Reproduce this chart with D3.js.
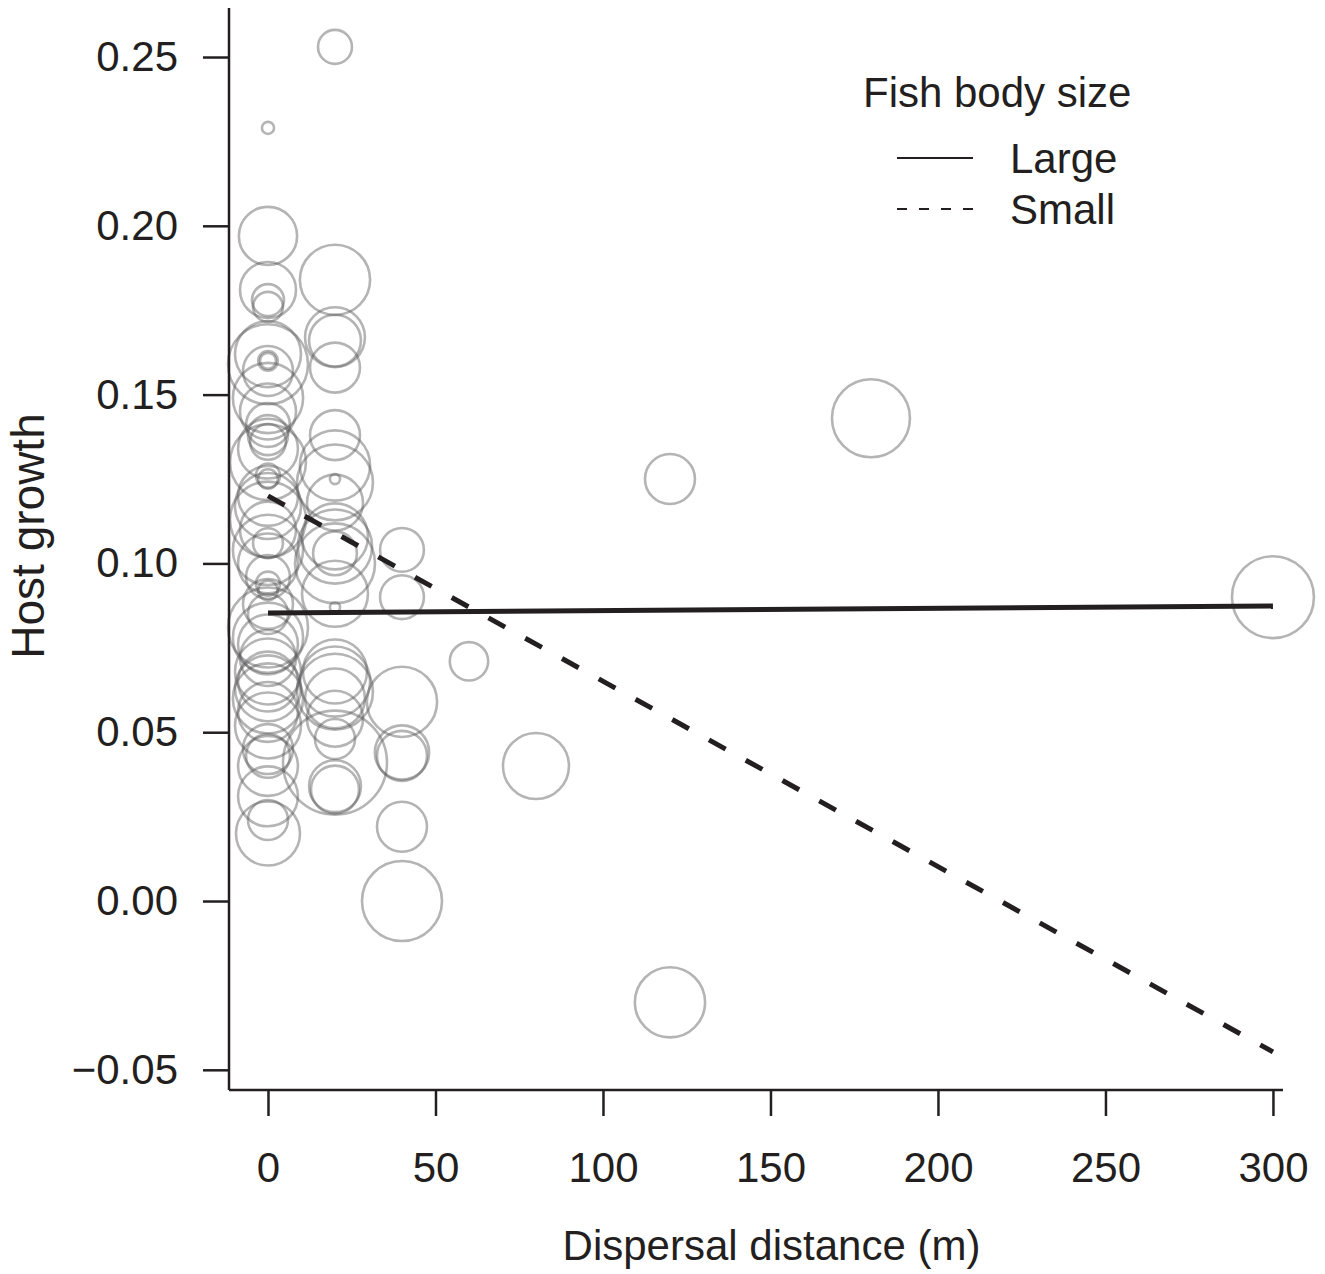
<!DOCTYPE html>
<html>
<head>
<meta charset="utf-8">
<script src="https://cdn.jsdelivr.net/npm/d3@7"></script>
<style>
  body { margin: 0; background: #fff; }
  text { font-family: "Liberation Sans", Arial, Helvetica, sans-serif; fill: #231f20; }
</style>
</head>
<body>
<div id="chart"></div>
<script>
// observations: dispersal distance (m), host growth, weight (bubble size)
let distance = [
  0,0,0,0,0,0,0,0,0,0,0,0,0,0,0,0,0,0,0,0,0,0,0,0,0,0,0,0,0,0,0,0,0,0,0,0,0,0,0,0,0,0,0,0,0,0,0,
  20,20,20,20,20,20,20,20,20,20,20,20,20,20,20,20,20,20,20,20,20,20,20,20,20,
  40,40,40,40,40,40,40,
  60, 80, 120, 120, 180, 300
];
let growth = [
  0.229,0.197,0.181,0.178,0.176,0.162,0.159,0.160,0.160,0.157,0.149,0.145,0.141,0.138,0.136,0.134,
  0.130,0.126,0.125,0.120,0.117,0.113,0.110,0.106,0.104,0.100,0.096,0.094,0.092,0.088,0.085,0.081,
  0.078,0.076,0.072,0.068,0.065,0.063,0.060,0.056,0.052,0.045,0.043,0.040,0.031,0.024,0.020,
  0.253,0.184,0.167,0.166,0.158,0.138,0.129,0.125,0.124,0.118,0.108,0.105,0.103,0.100,0.091,0.087,
  0.068,0.065,0.062,0.060,0.054,0.048,0.041,0.034,0.033,
  0.104,0.090,0.059,0.044,0.043,0.022,0.000,
  0.071, 0.040, 0.125, -0.030, 0.143, 0.090
];
let weight = [
  2.3,53,49,16,14,68,100,6,4,39,77,49,30,25,20,56,
  90,9,6,56,68,90,49,14,77,56,30,9,6,39,25,100,
  77,56,49,68,56,68,77,56,68,39,30,56,56,25,64,
  18,77,56,42,39,39,77,1.6,90,49,68,86,30,100,68,1.6,
  64,77,90,56,49,25,169,42,36,
  30,30,77,46,39,39,100,
  23, 68, 39, 77, 95, 105
];

// fitted lines for each fish body size
let fitGroups = ["Large", "Small"];
let fitX = [0, 300];
let fitLarge = [0.0853, 0.0874];
let fitSmall = [0.1200, -0.0447];

let xTicks = [0, 50, 100, 150, 200, 250, 300];
let yTicks = [-0.05, 0.00, 0.05, 0.10, 0.15, 0.20, 0.25];

let width = 1325, height = 1274;
let plot = { left: 229, right: 1283, top: 8, bottom: 1090 };
let ink = "#231f20";

let x = d3.scaleLinear().domain([-11.64, 303]).range([plot.left, plot.right]);
let y = d3.scaleLinear().domain([-0.05598, 0.26452]).range([plot.bottom, plot.top]);
let r = d3.scaleSqrt().domain([0, 100]).range([0, 40]);

let svg = d3.select("#chart").append("svg")
    .attr("width", width)
    .attr("height", height);

// bubbles
let points = distance.map((d, i) => ({ d: d, g: growth[i], w: weight[i] }));
svg.append("g")
  .selectAll("circle")
  .data(points)
  .join("circle")
    .attr("cx", p => x(p.d))
    .attr("cy", p => y(p.g))
    .attr("r", p => r(p.w))
    .attr("fill", "none")
    .attr("stroke", "#58595b")
    .attr("stroke-opacity", 0.45)
    .attr("stroke-width", 2.6);

// fitted lines
let line = d3.line().x(p => x(p[0])).y(p => y(p[1]));
svg.append("path")
    .attr("d", line(fitX.map((v, i) => [v, fitLarge[i]])))
    .attr("fill", "none").attr("stroke", ink).attr("stroke-width", 5);
svg.append("path")
    .attr("d", line(fitX.map((v, i) => [v, fitSmall[i]])))
    .attr("fill", "none").attr("stroke", ink).attr("stroke-width", 5)
    .attr("stroke-dasharray", "19,23");

// axes
let xAxis = svg.append("g")
    .attr("transform", `translate(0,${plot.bottom})`)
    .call(d3.axisBottom(x).tickValues(xTicks).tickSize(26).tickPadding(36).tickFormat(d3.format("d")));
let yAxis = svg.append("g")
    .attr("transform", `translate(${plot.left},0)`)
    .call(d3.axisLeft(y).tickValues(yTicks).tickSize(26).tickPadding(25)
      .tickFormat(v => d3.format(".2f")(v).replace("-", "\u2212")));

[xAxis, yAxis].forEach(a => {
  a.select(".domain").attr("stroke", ink).attr("stroke-width", 2.5);
  a.selectAll(".tick line").attr("stroke", ink).attr("stroke-width", 2.5);
  a.selectAll(".tick text").attr("font-size", 42).attr("fill", ink)
    .style("font-family", '"Liberation Sans", Arial, sans-serif');
});
// R style: axis lines stop at the box corner
xAxis.select(".domain").attr("d", `M${plot.left},0H${plot.right}`);
yAxis.select(".domain").attr("d", `M0,${plot.top}V${plot.bottom}`);

// axis titles
svg.append("text")
    .attr("x", (563 + 980) / 2).attr("y", 1260)
    .attr("text-anchor", "middle").attr("font-size", 42)
    .text("Dispersal distance (m)");
svg.append("text")
    .attr("transform", `translate(44,${(412 + 660) / 2}) rotate(-90)`)
    .attr("text-anchor", "middle").attr("font-size", 46)
    .text("Host growth");

// legend
let legend = svg.append("g");
legend.append("text")
    .attr("x", 863).attr("y", 107).attr("font-size", 42)
    .text("Fish body size");
fitGroups.forEach((name, i) => {
  let ly = 158 + i * 51;
  legend.append("line")
      .attr("x1", 897).attr("x2", 973).attr("y1", ly).attr("y2", ly)
      .attr("stroke", ink).attr("stroke-width", 2)
      .attr("stroke-dasharray", name == "Small" ? "10,12" : null);
  legend.append("text")
      .attr("x", 1010).attr("y", ly + 15).attr("font-size", 42)
      .text(name);
});
</script>
</body>
</html>
